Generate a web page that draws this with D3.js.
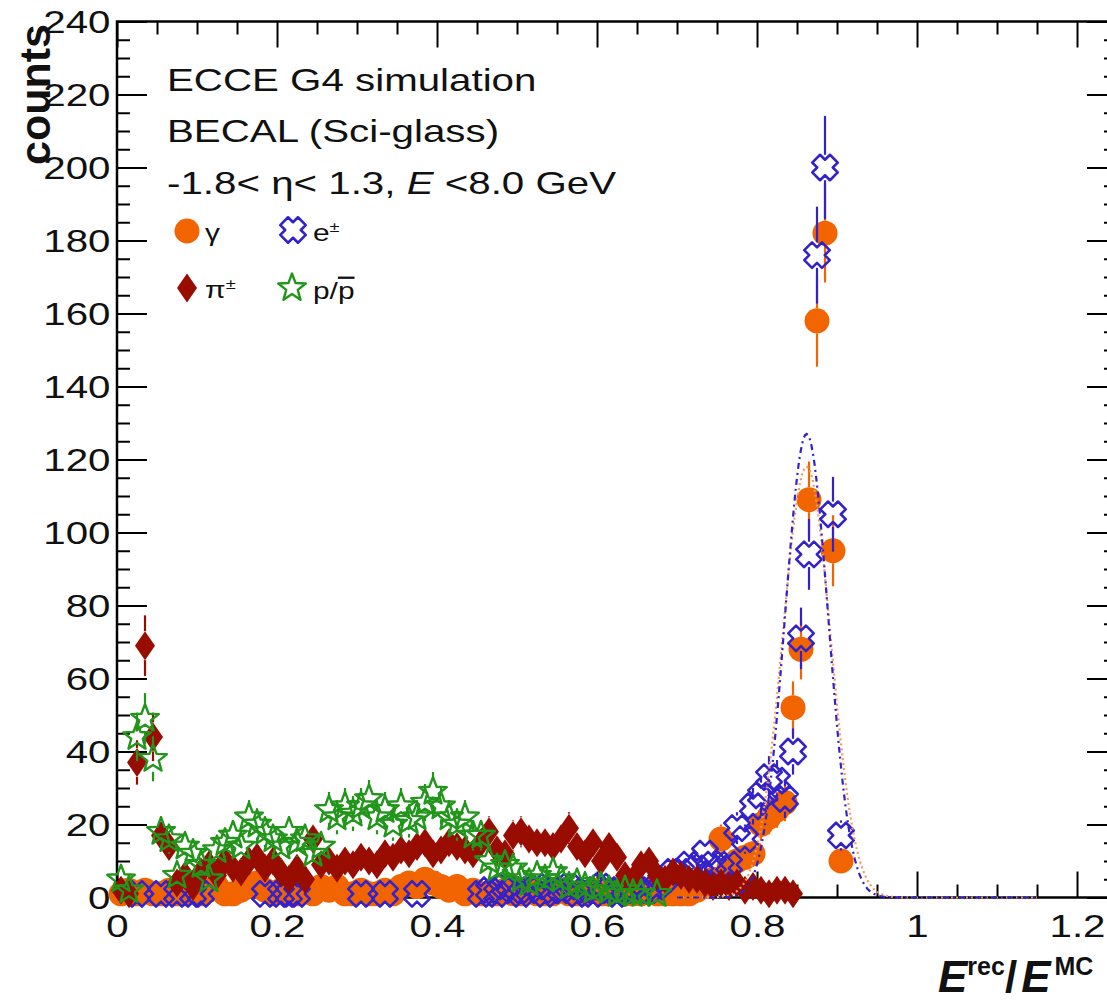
<!DOCTYPE html>
<html>
<head>
<meta charset="utf-8">
<title>BECAL (Sci-glass) energy response</title>
<script src="https://cdn.jsdelivr.net/npm/d3@7/dist/d3.min.js"></script>
<style>
  html, body { margin: 0; padding: 0; background: #fff; }
  svg { display: block; }
  text { font-family: "Liberation Sans", Arial, Helvetica, sans-serif; fill: #111; }
</style>
</head>
<body>
<svg id="plot" width="1107" height="1000"></svg>
<script>
// ---- Histogram binning: 0.01-wide bins in E_rec/E_MC starting at 0 ----
const binWidth = 0.01;
const binCenters = d3.range(91).map(i => +((i + 0.5) * binWidth).toFixed(3));

// ---- Counts per bin (0 = empty bin, not drawn) ----
const gammaCounts = [
  1,2,1,2,1,1,2,1,1,2,
  1,2,3,1,1,2,3,4,2,1,
  2,1,1,2,1,3,2,3,1,1,
  2,1,1,2,1,3,4,3,5,4,
  3,2,3,1,2,1,1,1,2,1,
  1,2,1,1,1,2,1,1,1,2,
  1,1,2,1,1,1,2,1,1,1,
  1,1,2,3,5,16,8,10,11,12,
  20,22,24,26,52,68,109,158,182,95,
  10
];
const electronCounts = [
  0,0,1,0,0,1,0,1,0,1,
  1,0,0,0,0,0,0,0,1,0,
  1,1,1,0,0,0,0,0,0,0,
  1,0,0,1,0,0,0,1,0,0,
  0,0,0,0,0,1,2,1,3,2,
  1,2,3,1,2,2,3,1,2,1,
  3,2,1,2,3,4,2,3,5,7,
  7,9,8,12,9,8,9,19,16,25,
  28,33,32,27,40,71,94,176,200,105,
  17
];
const pionCounts = [
  2,1,37,69,44,17,14,4,6,3,
  7,9,6,10,8,7,10,11,8,10,
  7,5,8,5,16,9,10,8,10,9,
  11,10,9,12,11,13,12,14,15,12,
  13,15,14,13,12,15,18,13,12,17,
  18,16,15,15,14,16,19,14,12,15,
  10,14,11,6,5,9,10,6,5,7,
  6,5,5,4,3,4,3,4,2,3,
  2,1,2,2,1,0,0,0,0,0,
  0
];
const protonCounts = [
  5,2,44,49,38,18,16,6,14,12,
  9,5,13,15,17,14,22,20,18,16,
  14,18,15,16,12,14,24,22,25,23,
  25,27,22,24,20,25,21,22,26,29,
  25,22,20,22,17,17,10,8,9,8,
  5,4,6,5,7,5,3,4,3,2,
  3,2,1,2,1,1,0,1,0,0,
  0,0,0,0,0,0,0,0,0,0,
  0,0,0,0,0,0,0,0,0,0,
  0
];

// Gaussian fit parameters [amplitude, mean, sigma] and fit range
const gammaFitParams = [118, 0.862, 0.030];
const electronFitParams = [127, 0.862, 0.027];
const fitRange = [0.70, 1.15];

// ---- Axis ticks ----
const xTickValues = [0, 0.2, 0.4, 0.6, 0.8, 1.0, 1.2];
const xTickLabels = ["0", "0.2", "0.4", "0.6", "0.8", "1", "1.2"];
const yTickValues = [0, 20, 40, 60, 80, 100, 120, 140, 160, 180, 200, 220, 240];
const yTickLabels = yTickValues.map(String);

// ---- Frame geometry ----
const X0 = 117, X1 = 1117, Y0 = 897.5, Y1 = 21.5;
const TEXT_SX = 1.3;   // wide lettering of the plot's text

const svg = d3.select("#plot");
const x = d3.scaleLinear().domain([0, 1.25]).range([X0, X1]);
const y = d3.scaleLinear().domain([0, 240]).range([Y0, Y1]);

const xMinor = d3.range(0, 1.2501, 0.05).filter(v => !xTickValues.some(m => Math.abs(m - v) < 1e-6));
const yMinor = d3.range(0, 240.01, 5).filter(v => v % 20 !== 0);

function styleTicks(g) {
  g.select(".domain").remove();
  g.selectAll(".tick line").attr("stroke", "#000").attr("stroke-width", 2);
  g.attr("font-family", null).attr("font-size", null);
}
function plainAxis(axis, translate) {
  const g = svg.append("g").attr("transform", translate).call(axis.tickFormat(""));
  styleTicks(g);
  g.selectAll("text").remove();
  return g;
}

// bottom axis with labels
const gxb = svg.append("g").attr("transform", `translate(0,${Y0})`)
  .call(d3.axisBottom(x).tickValues(xTickValues).tickSize(-26).tickPadding(17)
    .tickFormat(d => xTickLabels[xTickValues.indexOf(d)]));
styleTicks(gxb);
gxb.selectAll("text").attr("font-size", 31).attr("fill", "#111")
  .attr("transform", `scale(${TEXT_SX},1)`);
plainAxis(d3.axisBottom(x).tickValues(xMinor).tickSize(-13), `translate(0,${Y0})`);
// top axis
plainAxis(d3.axisTop(x).tickValues(xTickValues).tickSize(-26), `translate(0,${Y1})`);
plainAxis(d3.axisTop(x).tickValues(xMinor).tickSize(-13), `translate(0,${Y1})`);

// left axis with labels
const gyl = svg.append("g").attr("transform", `translate(${X0},0)`)
  .call(d3.axisLeft(y).tickValues(yTickValues).tickSize(-30).tickPadding(5)
    .tickFormat(d => yTickLabels[yTickValues.indexOf(d)]));
styleTicks(gyl);
gyl.selectAll("text").attr("font-size", 31).attr("fill", "#111").attr("dy", "0.36em")
  .attr("transform", `scale(${TEXT_SX},1)`);
plainAxis(d3.axisLeft(y).tickValues(yMinor).tickSize(-13), `translate(${X0},0)`);
// right axis
plainAxis(d3.axisRight(y).tickValues(yTickValues).tickSize(-30), `translate(${X1},0)`);
plainAxis(d3.axisRight(y).tickValues(yMinor).tickSize(-13), `translate(${X1},0)`);

// frame
svg.append("rect").attr("x", X0).attr("y", Y1).attr("width", X1 - X0).attr("height", Y0 - Y1)
  .attr("fill", "none").attr("stroke", "#000").attr("stroke-width", 2.5);

// ---- Marker shapes ----
function circlePath(r) {
  return `M${-r},0A${r},${r} 0 1,0 ${r},0A${r},${r} 0 1,0 ${-r},0Z`;
}
function diamondPath(w, h) {
  return `M0,${-h}L${w},0L0,${h}L${-w},0Z`;
}
function starPath(R, ratio) {
  const pts = [];
  for (let k = 0; k < 10; k++) {
    const a = -Math.PI / 2 + k * Math.PI / 5;
    const rad = k % 2 ? R * ratio : R;
    pts.push([rad * Math.cos(a), rad * Math.sin(a)]);
  }
  return "M" + pts.map(p => p[0].toFixed(2) + "," + p[1].toFixed(2)).join("L") + "Z";
}
function crossXPath(s, w) {
  const base = [[w,-s],[w,-w],[s,-w],[s,w],[w,w],[w,s],[-w,s],[-w,w],[-s,w],[-s,-w],[-w,-w],[-w,-s]];
  const c = Math.SQRT1_2;
  const pts = base.map(([px, py]) => [c * (px - py), c * (px + py)]);
  return "M" + pts.map(p => p[0].toFixed(2) + "," + p[1].toFixed(2)).join("L") + "Z";
}

const gammaColor = "#f26400";
const electronColor = "#3322cc";
const pionColor = "#990c00";
const protonColor = "#21961a";

const markerStyles = {
  gamma:    { path: circlePath(12.5), half: 12.5, fill: gammaColor, stroke: "none", sw: 0, color: gammaColor },
  electron: { path: crossXPath(12.5, 5.5), half: 12.7, fill: "none", stroke: electronColor, sw: 2.6, color: electronColor },
  pion:     { path: diamondPath(10, 14.5), half: 14.5, fill: pionColor, stroke: "none", sw: 0, color: pionColor },
  proton:   { path: starPath(14.5, 0.42), half: 13, fill: "none", stroke: protonColor, sw: 2.4, color: protonColor }
};

function drawMarker(g, style, cx, cy) {
  g.append("path").attr("d", style.path)
    .attr("transform", `translate(${cx},${cy})`)
    .attr("fill", style.fill).attr("stroke", style.stroke).attr("stroke-width", style.sw)
    .attr("stroke-linejoin", "round");
}

function drawSeries(counts, style) {
  const g = svg.append("g");
  const pts = binCenters.map((c, i) => ({ c, v: counts[i] })).filter(d => d.v > 0);
  // Poisson error bars, drawn outside the marker
  pts.forEach(d => {
    const e = Math.sqrt(d.v);
    const cx = x(d.c), cy = y(d.v);
    const top = y(d.v + e), bot = y(Math.max(0, d.v - e));
    if (cy - style.half > top) {
      g.append("line").attr("x1", cx).attr("x2", cx).attr("y1", top).attr("y2", cy - style.half)
        .attr("stroke", style.color).attr("stroke-width", 2.2);
    }
    if (bot > cy + style.half) {
      g.append("line").attr("x1", cx).attr("x2", cx).attr("y1", cy + style.half).attr("y2", bot)
        .attr("stroke", style.color).attr("stroke-width", 2.2);
    }
  });
  pts.forEach(d => drawMarker(g, style, x(d.c), y(d.v)));
}

drawSeries(gammaCounts, markerStyles.gamma);
drawSeries(electronCounts, markerStyles.electron);
drawSeries(pionCounts, markerStyles.pion);
drawSeries(protonCounts, markerStyles.proton);

// ---- Gaussian fits ----
function gauss(p, t) { return p[0] * Math.exp(-0.5 * Math.pow((t - p[1]) / p[2], 2)); }
const fitXs = d3.range(fitRange[0], fitRange[1] + 1e-9, 0.002);
const fitLine = d3.line().x(d => x(d[0])).y(d => y(d[1]));
svg.append("path").attr("d", fitLine(fitXs.map(t => [t, gauss(gammaFitParams, t)])))
  .attr("fill", "none").attr("stroke", "#f59a55").attr("stroke-width", 2.2)
  .attr("stroke-dasharray", "2,3");
svg.append("path").attr("d", fitLine(fitXs.map(t => [t, gauss(electronFitParams, t)])))
  .attr("fill", "none").attr("stroke", electronColor).attr("stroke-width", 2.2)
  .attr("stroke-dasharray", "6,4,2,4");

// ---- Text ----
function wideText(px, py, size) {
  return svg.append("text").attr("transform", `translate(${px},${py}) scale(${TEXT_SX},1)`)
    .attr("font-size", size);
}
wideText(167, 91, 31).text("ECCE G4 simulation");
wideText(167, 142, 31).text("BECAL (Sci-glass)");
const t3 = wideText(167, 194, 31);
t3.append("tspan").text("-1.8< \u03b7< 1.3, ");
t3.append("tspan").attr("font-style", "italic").text("E");
t3.append("tspan").text(" <8.0 GeV");

// legend
drawMarker(svg, markerStyles.gamma, 187, 231);
drawMarker(svg, markerStyles.electron, 293, 230);
drawMarker(svg, markerStyles.pion, 187, 288);
drawMarker(svg, markerStyles.proton, 292, 288);

const lg1 = wideText(205, 241, 23);
lg1.append("tspan").text("\u03b3");
const lg2 = wideText(313, 241, 23);
lg2.append("tspan").text("e");
lg2.append("tspan").attr("font-size", 14).attr("dy", -9).text("\u00b1");
const lg3 = wideText(205, 298, 23);
lg3.append("tspan").text("\u03c0");
lg3.append("tspan").attr("font-size", 14).attr("dy", -9).text("\u00b1");
const lg4 = wideText(313, 299, 23);
lg4.append("tspan").text("p/");
lg4.append("tspan").attr("text-decoration", "overline").text("p");

// y title
svg.append("text").attr("transform", `translate(50,24) rotate(-90)`)
  .attr("text-anchor", "end").attr("font-size", 43).attr("font-weight", "bold").text("counts");

// x title
const xt = svg.append("text").attr("transform", `translate(938,992)`)
  .attr("font-size", 44).attr("font-weight", "bold");
xt.append("tspan").attr("font-style", "italic").text("E");
xt.append("tspan").attr("font-size", 25).attr("dy", -17).text("rec");
xt.append("tspan").attr("dy", 17).text("/");
xt.append("tspan").attr("font-style", "italic").attr("dx", 4).text("E");
xt.append("tspan").attr("font-size", 25).attr("dy", -17).attr("dx", 4).text("MC");
</script>
</body>
</html>
